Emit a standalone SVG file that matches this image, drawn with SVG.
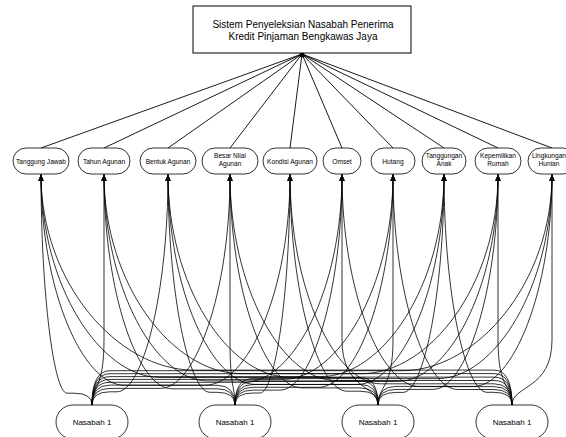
<svg xmlns="http://www.w3.org/2000/svg" width="566" height="437" viewBox="0 0 566 437">
<defs>
<marker id="ah" markerWidth="6" markerHeight="8" refX="3" refY="0" orient="0" markerUnits="userSpaceOnUse" viewBox="0 -1 6 9">
<path d="M0,7 L3,0 L6,7 Z" fill="#000"/>
</marker>
<style>
.box{fill:#fff;stroke:#000;stroke-width:1}
.pill{fill:#fff;stroke:#000;stroke-width:0.8}
.t{font-family:"Liberation Sans",Arial,sans-serif;fill:#000;text-anchor:middle}
.title{font-size:10px}
.crit{font-size:6.6px}
.nas{font-size:8px}
.top line{stroke:#000;stroke-width:0.9}
.cv path{fill:none;stroke:#000;stroke-width:0.8;marker-end:url(#ah)}
</style>
</defs>
<rect width="566" height="437" fill="#fff"/>

<g class="top">
<line x1="302" y1="54" x2="41" y2="148"/>
<line x1="302" y1="54" x2="104" y2="148"/>
<line x1="302" y1="54" x2="168" y2="148"/>
<line x1="302" y1="54" x2="230" y2="148"/>
<line x1="302" y1="54" x2="290" y2="148"/>
<line x1="302" y1="54" x2="342" y2="148"/>
<line x1="302" y1="54" x2="393" y2="148"/>
<line x1="302" y1="54" x2="444" y2="148"/>
<line x1="302" y1="54" x2="498" y2="148"/>
<line x1="302" y1="54" x2="552" y2="148"/>
<circle cx="302" cy="55" r="2.5" fill="#000"/>
</g>

<g class="cv">
<!-- Nasabah 1 (92) -->
<path d="M92,405 Q92,393.2 74,393.2 L67,393.2 C54,393.2 41,295 41,174.5"/>
<path d="M92,405 C92,385 104,390 104,340 L104,174.5"/>
<path d="M92,405 Q92,391.8 110,391.8 L117,391.8 C142.5,391.8 168,294.2 168,174.5"/>
<path d="M92,405 Q92,388.4 110,388.4 L160.5,388.4 C195.3,388.4 230,292.4 230,174.5"/>
<path d="M92,405 Q92,385.1 110,385.1 L205.5,385.1 C247.8,385.1 290,290.6 290,174.5"/>
<path d="M92,405 Q92,382.3 110,382.3 L244.5,382.3 C293.3,382.3 342,289 342,174.5"/>
<path d="M92,405 Q92,379.4 110,379.4 L282.8,379.4 C337.9,379.4 393,287.4 393,174.5"/>
<path d="M92,405 Q92,376.6 110,376.6 L321,376.6 C382.5,376.6 444,285.9 444,174.5"/>
<path d="M92,405 Q92,373.7 110,373.7 L361.5,373.7 C429.8,373.7 498,284.3 498,174.5"/>
<path d="M92,405 Q92,370.7 110,370.7 L402,370.7 C477,370.7 552,282.6 552,174.5"/>
<!-- Nasabah 2 (235) -->
<path d="M235,405 Q235,385.3 217,385.3 L124.5,385.3 C82.8,385.3 41,290.7 41,174.5"/>
<path d="M235,405 Q235,388.8 217,388.8 L171.8,388.8 C137.9,388.8 104,292.6 104,174.5"/>
<path d="M235,405 Q235,392.3 217,392.3 L210,392.3 C189,392.3 168,294.5 168,174.5"/>
<path d="M235,405 C235,385 230,390 230,340 L230,174.5"/>
<path d="M235,405 Q235,393 253,393 L260,393 C275,393 290,294.9 290,174.5"/>
<path d="M235,405 Q235,390.1 253,390.1 L280.3,390.1 C311.1,390.1 342,293.3 342,174.5"/>
<path d="M235,405 Q235,387.3 253,387.3 L318.5,387.3 C355.8,387.3 393,291.8 393,174.5"/>
<path d="M235,405 Q235,384.5 253,384.5 L356.8,384.5 C400.4,384.5 444,290.2 444,174.5"/>
<path d="M235,405 Q235,381.5 253,381.5 L397.3,381.5 C447.6,381.5 498,288.6 498,174.5"/>
<path d="M235,405 Q235,378.6 253,378.6 L437.8,378.6 C494.9,378.6 552,287 552,174.5"/>
<!-- Nasabah 3 (378) -->
<path d="M378,405 Q378,377.5 360,377.5 L160.3,377.5 C100.6,377.5 41,286.4 41,174.5"/>
<path d="M378,405 Q378,380.9 360,380.9 L207.5,380.9 C155.8,380.9 104,288.2 104,174.5"/>
<path d="M378,405 Q378,384.4 360,384.4 L255.5,384.4 C211.8,384.4 168,290.2 168,174.5"/>
<path d="M378,405 Q378,387.9 360,387.9 L302,387.9 C266,387.9 230,292.1 230,174.5"/>
<path d="M378,405 Q378,391.2 360,391.2 L347,391.2 C318.5,391.2 290,293.9 290,174.5"/>
<path d="M378,405 C378,385 342,390 342,340 L342,174.5"/>
<path d="M378,405 C378,385 393,390 393,340 L393,174.5"/>
<path d="M378,405 Q378,392.4 396,392.4 L403,392.4 C423.5,392.4 444,294.6 444,174.5"/>
<path d="M378,405 Q378,389.4 396,389.4 L433,389.4 C465.5,389.4 498,292.9 498,174.5"/>
<path d="M378,405 Q378,386.4 396,386.4 L473.5,386.4 C512.8,386.4 552,291.3 552,174.5"/>
<!-- Nasabah 4 (512) -->
<path d="M512,405 Q512,370.1 494,370.1 L193.8,370.1 C117.4,370.1 41,282.3 41,174.5"/>
<path d="M512,405 Q512,373.6 494,373.6 L241,373.6 C172.5,373.6 104,284.2 104,174.5"/>
<path d="M512,405 Q512,377.1 494,377.1 L289,377.1 C228.5,377.1 168,286.2 168,174.5"/>
<path d="M512,405 Q512,380.5 494,380.5 L335.5,380.5 C282.8,380.5 230,288 230,174.5"/>
<path d="M512,405 Q512,383.8 494,383.8 L380.5,383.8 C335.3,383.8 290,289.8 290,174.5"/>
<path d="M512,405 Q512,386.6 494,386.6 L419.5,386.6 C380.8,386.6 342,291.4 342,174.5"/>
<path d="M512,405 Q512,389.5 494,389.5 L457.8,389.5 C425.4,389.5 393,293 393,174.5"/>
<path d="M512,405 Q512,392.3 494,392.3 L487,392.3 C465.5,392.3 444,294.5 444,174.5"/>
<path d="M512,405 C512,385 498,390 498,340 L498,174.5"/>
<path d="M512,405 C512,385 552,390 552,340 L552,174.5"/>
</g>

<g id="root">
<rect class="box" x="193" y="6" width="218" height="47"/>
<text class="t title" x="303" y="28">Sistem Penyeleksian Nasabah Penerima</text>
<text class="t title" x="303" y="40">Kredit Pinjaman Bengkawas Jaya</text>
</g>

<g id="c1"><rect class="pill" x="13" y="148" width="56" height="26" rx="13"/><text class="t crit" x="41" y="163.5">Tanggung Jawab</text></g>
<g id="c2"><rect class="pill" x="78" y="148" width="52" height="26" rx="13"/><text class="t crit" x="104" y="163.5">Tahun Agunan</text></g>
<g id="c3"><rect class="pill" x="140" y="148" width="56" height="26" rx="13"/><text class="t crit" x="168" y="163.5">Bentuk Agunan</text></g>
<g id="c4"><rect class="pill" x="202" y="148" width="56" height="26" rx="13"/><text class="t crit" x="230" y="158">Besar Nilai</text><text class="t crit" x="230" y="166">Agunan</text></g>
<g id="c5"><rect class="pill" x="263" y="148" width="54" height="26" rx="13"/><text class="t crit" x="290" y="163.5">Kondisi Agunan</text></g>
<g id="c6"><rect class="pill" x="323" y="148" width="38" height="26" rx="13"/><text class="t crit" x="342" y="163.5">Omset</text></g>
<g id="c7"><rect class="pill" x="371" y="148" width="44" height="26" rx="13"/><text class="t crit" x="393" y="163.5">Hutang</text></g>
<g id="c8"><rect class="pill" x="422" y="148" width="44" height="26" rx="13"/><text class="t crit" x="444" y="158">Tanggungan</text><text class="t crit" x="444" y="166">Anak</text></g>
<g id="c9"><rect class="pill" x="475" y="148" width="46" height="26" rx="13"/><text class="t crit" x="498" y="158">Kepemilikan</text><text class="t crit" x="498" y="166">Rumah</text></g>
<g id="c10"><rect class="pill" x="528" y="148" width="48" height="26" rx="13"/><text class="t crit" x="549" y="158">Lingkungan</text><text class="t crit" x="549" y="166">Hunian</text></g>

<g id="n1"><rect class="pill" x="56" y="405" width="72" height="34" rx="17"/><text class="t nas" x="92" y="425">Nasabah 1</text></g>
<g id="n2"><rect class="pill" x="199" y="405" width="72" height="34" rx="17"/><text class="t nas" x="235" y="425">Nasabah 1</text></g>
<g id="n3"><rect class="pill" x="342" y="405" width="72" height="34" rx="17"/><text class="t nas" x="378" y="425">Nasabah 1</text></g>
<g id="n4"><rect class="pill" x="476" y="405" width="72" height="34" rx="17"/><text class="t nas" x="512" y="425">Nasabah 1</text></g>
</svg>
